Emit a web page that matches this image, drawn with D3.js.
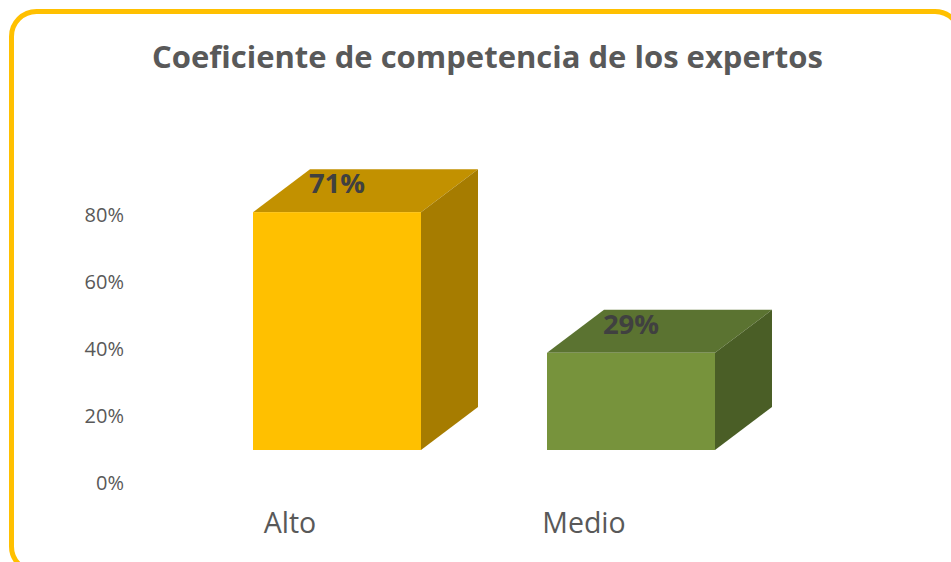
<!DOCTYPE html>
<html>

<head>
  <meta charset="utf-8" />
  <title>Coeficiente de competencia</title>
  <style>
    body {
      margin: 0;
      background: #fff;
    }

    svg text {
      font-family: "Open Sans", sans-serif;
      fill: #595959;
    }
  </style>
</head>

<body>
  <svg></svg>

  <script src="https://d3js.org/d3.v7.min.js"></script>
  <script>
    var width = 951,
      height = 562;

    // data
    var categories = ["Alto", "Medio"];
    var values = [0.71, 0.29];
    var tickValues = [0, 0.2, 0.4, 0.6, 0.8];
    var frontColors = ["#FFC000", "#77933C"];
    var topColors = ["#C29100", "#5B7331"];
    var sideColors = ["#A67C00", "#4A5E26"];

    var svg = d3.select("svg")
      .attr("width", width)
      .attr("height", height);

    // frame
    svg.append("rect")
      .attr("x", 11.5)
      .attr("y", 11.5)
      .attr("width", 948.5)
      .attr("height", 560)
      .attr("rx", 25)
      .attr("fill", "none")
      .attr("stroke", "#FFC000")
      .attr("stroke-width", 5);

    svg.append("text")
      .attr("x", 487.5)
      .attr("y", 68)
      .attr("text-anchor", "middle")
      .style("font-size", "31px")
      .style("font-weight", "bold")
      .text("Coeficiente de competencia de los expertos");

    var y = d3.scaleLinear().domain([0, 0.8]).range([483, 215]);
    var x = d3.scaleBand().domain(categories).range([190, 778])
      .paddingInner(0.4286).paddingOuter(0.2143);

    var depthX = 57, depthY = -43, frontShift = -33; // 3d offsets

    // y axis (labels only)
    var yAxis = d3.axisLeft(y).tickValues(tickValues)
      .tickFormat(d3.format(".0%")).tickSize(0).tickPadding(0);
    var ag = svg.append("g").attr("transform", "translate(124,0)").call(yAxis);
    ag.select(".domain").remove();
    ag.selectAll("text")
      .attr("fill", "#595959")
      .style("font-size", "20px")
      .style("font-family", "'Open Sans', sans-serif");

    var data = categories.map((c, i) => ({ cat: c, v: values[i], i: i }));

    var bars = svg.append("g").selectAll("g")
      .data(data)
      .enter()
      .append("g");

    function fy(v) { return y(v) + frontShift; }

    // top face
    bars.append("path")
      .attr("fill", d => topColors[d.i])
      .attr("d", d => {
        var x0 = x(d.cat), x1 = x0 + x.bandwidth(), t = fy(d.v);
        return "M" + x0 + "," + t + "L" + (x0 + depthX) + "," + (t + depthY) +
          "L" + (x1 + depthX) + "," + (t + depthY) + "L" + x1 + "," + t + "Z";
      });
    // side face
    bars.append("path")
      .attr("fill", d => sideColors[d.i])
      .attr("d", d => {
        var x1 = x(d.cat) + x.bandwidth(), t = fy(d.v), b = fy(0);
        return "M" + x1 + "," + t + "L" + (x1 + depthX) + "," + (t + depthY) +
          "L" + (x1 + depthX) + "," + (b + depthY) + "L" + x1 + "," + b + "Z";
      });
    // front face
    bars.append("rect")
      .attr("x", d => x(d.cat))
      .attr("y", d => fy(d.v))
      .attr("width", x.bandwidth())
      .attr("height", d => fy(0) - fy(d.v))
      .attr("fill", d => frontColors[d.i]);

    // value labels
    bars.append("text")
      .attr("x", d => x(d.cat) + x.bandwidth() / 2)
      .attr("y", d => fy(d.v) - 19)
      .attr("text-anchor", "middle")
      .style("font-size", "27.5px")
      .style("font-weight", "bold")
      .style("fill", "#404040")
      .text(d => Math.round(d.v * 100) + "%");

    // category labels
    svg.append("g").selectAll("text")
      .data(categories)
      .enter()
      .append("text")
      .attr("x", d => x(d) + x.bandwidth() / 2 - 47)
      .attr("y", 533)
      .attr("text-anchor", "middle")
      .style("font-size", "28.5px")
      .text(d => d);
  </script>
</body>

</html>
